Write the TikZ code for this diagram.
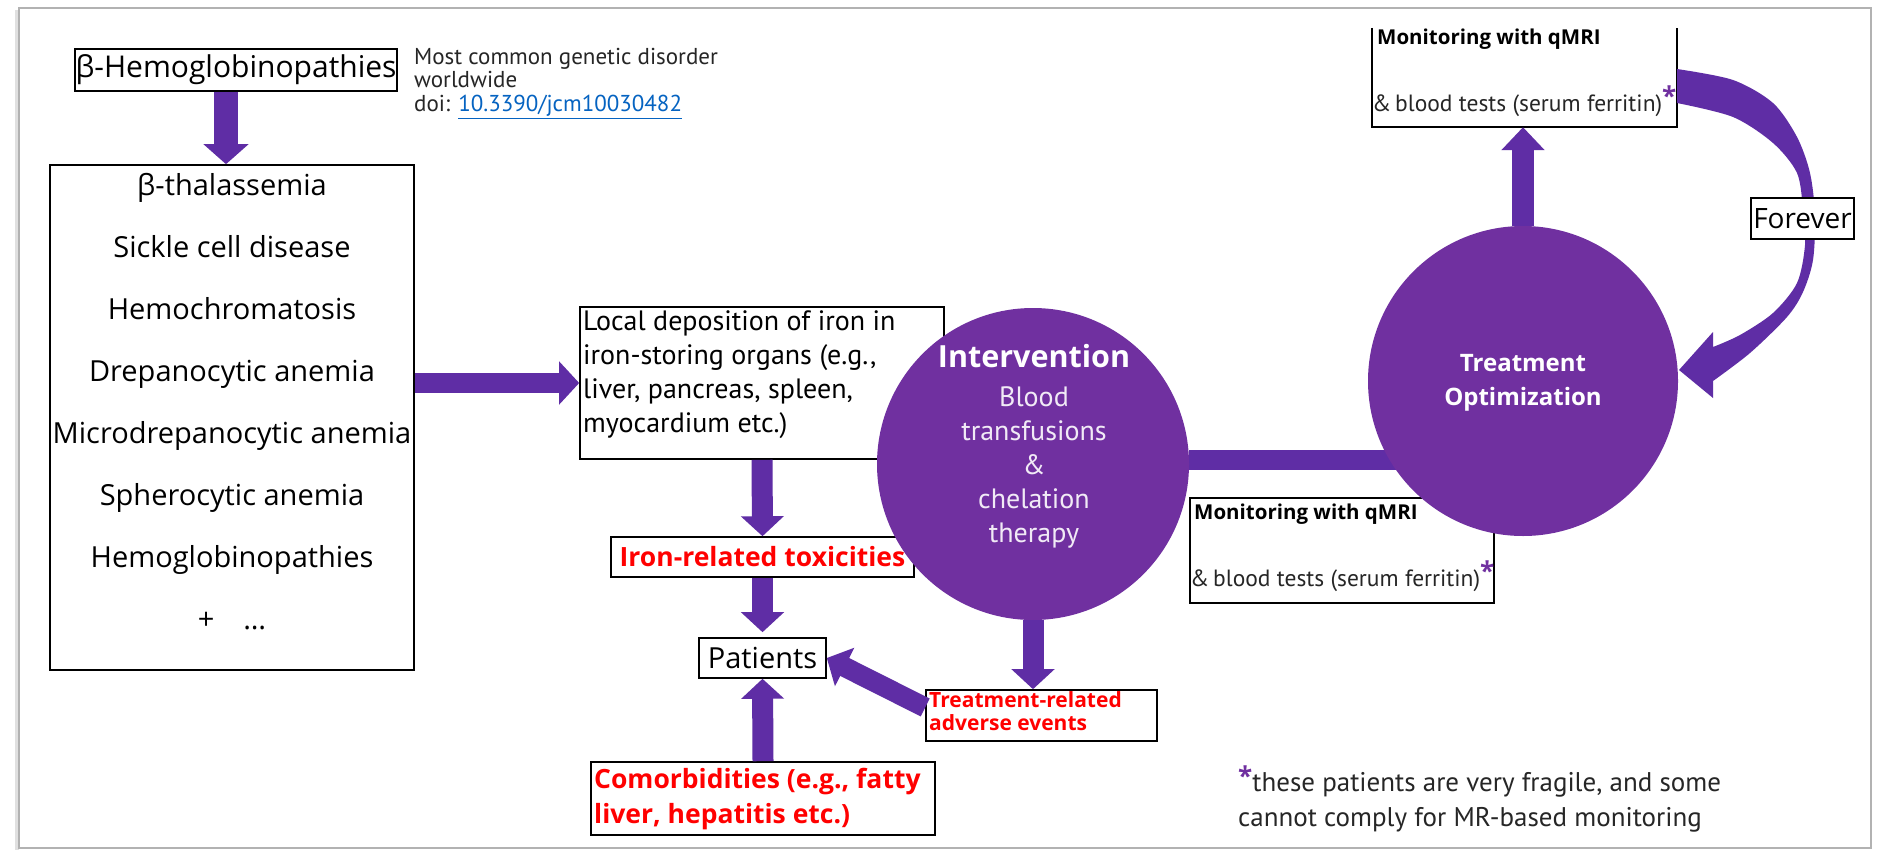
\documentclass[tikz,border=0pt]{standalone}
\usepackage{fontspec}
\setmainfont{PT Sans}
\newfontfamily\os{Open Sans}
\usetikzlibrary{arrows.meta}
\definecolor{circ}{HTML}{7030A0}
\definecolor{arr}{HTML}{5F2DA5}
\definecolor{linkblue}{HTML}{0563C1}
\definecolor{txt}{HTML}{262626}
\definecolor{redt}{HTML}{FF0000}
\pgfdeclarelayer{bg}
\pgfsetlayers{bg,main}
\newcommand\fs[2]{\fontsize{#1}{#2}\selectfont}
\newcommand\pstar{\raisebox{6pt}{\textcolor{circ}{\os\bfseries\fs{26}{26}*}}}
\begin{document}
\begin{tikzpicture}[x=1pt,y=-1pt,
  box/.style={draw=black, line width=1.6pt, fill=white, inner sep=0pt},
  barrow/.style={draw=arr, line width=21pt, -{Triangle[length=20pt,width=42pt]}},
  bar/.style={draw=arr, line width=20pt},
  disc/.style={circle, fill=circ, inner sep=0pt},
  plain/.style={inner sep=0pt, text=txt},
]
\useasboundingbox (0,0) rectangle (1884,851);
\begin{pgfonlayer}{bg}
\fill[white] (0,0) rectangle (1884,851);
\draw[black!12, line width=4pt] (17,10) -- (17,850);
\draw[black!30, line width=1.5pt] (19,8) rectangle (1871,848);
\end{pgfonlayer}

% left column
\node[box, minimum width=322pt, minimum height=42pt] (bh) at (236,70) {\os\fs{30}{36}β-Hemoglobinopathies};
\node[box, minimum width=364pt, minimum height=505pt] (list) at (232,417.5) {};
\node[plain, text=black, align=center, font={\os\fs{29}{62}}] (listtxt) at (232,402)
  {β-thalassemia\\Sickle cell disease\\Hemochromatosis\\Drepanocytic anemia\\Microdrepanocytic anemia\\Spherocytic anemia\\Hemoglobinopathies\\+\quad …};
\draw[barrow, line width=24pt, -{Triangle[length=20pt,width=44pt]}] ([xshift=-10pt]bh.south) -- ([xshift=-6pt]list.north);

\node[plain, anchor=north west, align=left, font={\fs{23}{23.5}}] (note) at (414,48)
  {Most common genetic disorder\\worldwide\\doi: \textcolor{linkblue}{\underline{10.3390/jcm10030482}}};

% middle
\node[box, minimum width=364pt, minimum height=152pt] (loc) at (762,383) {};
\node[plain, text=black, anchor=north west, align=left, font={\fs{28}{34}}] (loctxt) at (583,310)
  {Local deposition of iron in\\iron-storing organs (e.g.,\\liver, pancreas, spleen,\\myocardium etc.)};
\draw[barrow, line width=20pt] (list.east |- loc.west) -- (loc.west);

\node[box, minimum width=303pt, minimum height=40pt, text=redt, font={\os\bfseries\fs{26.5}{30}}] (itox) at (762.5,557) {Iron-related toxicities};
\node[box, minimum width=127pt, minimum height=40pt, font={\os\fs{29}{34}}] (pat) at (762.5,658) {Patients};
\node[box, minimum width=344pt, minimum height=73pt] (com) at (763,798.5) {};
\node[inner sep=0pt, anchor=north west, align=left, text=redt, font={\os\bfseries\fs{26.5}{35}}] (comtxt) at (594,768)
  {Comorbidities (e.g., fatty\\liver, hepatitis etc.)};

\draw[barrow] (loc.south) -- (itox.north);
\draw[barrow, shorten >=5pt] (itox.south) -- (pat.north);
\draw[barrow] (com.north) -- (pat.south);

% intervention
\node[disc, minimum size=312pt] (interv) at (1033,464) {};
\node[inner sep=0pt, text=white, font={\os\bfseries\fs{30.5}{34}}] (inttitle) at (1034,356) {Intervention};
\node[inner sep=0pt, anchor=north, align=center, text=white!90!circ, font={\fs{28}{34}}] (inttxt) at (1034,386)
  {Blood\\transfusions\\\&\\chelation\\therapy};

\node[box, minimum width=231pt, minimum height=51pt] (tr) at (1041.5,715.5) {};
\node[inner sep=0pt, anchor=north west, align=left, text=redt, font={\os\bfseries\fs{21}{23}}] (trtxt) at (929,691)
  {Treatment-related\\adverse events};
\draw[barrow] (interv.south) -- (interv.south |- tr.north);
\draw[barrow, line width=20pt] ([yshift=8pt]tr.west) -- (pat.east);

% lower monitoring box
\node[box, minimum width=304pt, minimum height=105pt] (lmon) at (1342,550.5) {};
\node[inner sep=0pt, anchor=north west, text=black, font={\os\bfseries\fs{20.5}{24}}] (lmon1) at (1194,504) {Monitoring with qMRI};
\node[inner sep=0pt, anchor=base west, text=txt, font={\fs{23.5}{24}}] (lmon2) at (1190,586) {\&\,blood tests (serum ferritin)\pstar};

% treatment optimization
\node[disc, minimum size=310pt] (topt) at (1523,381) {};
\node[inner sep=0pt, align=center, text=white, font={\os\bfseries\fs{24}{34}}] (topttxt) at (1523,383) {Treatment\\Optimization};
\begin{pgfonlayer}{bg}
\draw[bar] ([yshift=4pt]interv.east) -- ([yshift=4pt]interv.east -| topt.center);
\end{pgfonlayer}

% upper monitoring box (open top)
\node[inner sep=0pt, minimum width=305pt, minimum height=99pt] (ub) at (1524.5,77.5) {};
\draw[line width=1.6pt] (ub.north west) -- (ub.south west) -- (ub.south east) -- (ub.north east);
\node[inner sep=0pt, anchor=north west, text=black, font={\os\bfseries\fs{20.5}{24}}] (ub1) at (1377,29) {Monitoring with qMRI};
\node[inner sep=0pt, anchor=base west, text=txt, font={\fs{23.5}{24}}] (ub2) at (1372,111) {\&\,blood tests (serum ferritin)\pstar};
\draw[barrow, line width=22pt, -{Triangle[length=23pt,width=42pt]}] (topt.north) -- (topt.north |- ub.south);

% curved "forever" arrow
\fill[arr] plot[smooth] coordinates {(1677,69) (1733,80) (1773,103) (1797,137) (1810,173) (1815,215) (1813,260) (1803,292) (1787,317) (1750,353) (1713,381)}
  -- (1713,398) -- (1679,370) -- (1713,332)
  -- plot[smooth] coordinates {(1713,347) (1740,335) (1773,313) (1797,283) (1805,245) (1803,210) (1797,173) (1773,143) (1733,117) (1677,103)} -- cycle;
\node[box, minimum width=103pt, minimum height=41pt, font={\os\fs{28}{34}}] (forever) at (1802.5,218.5) {Forever};

% footnote
\node[plain, anchor=north west, align=left, font={\fs{27}{35}}] (foot) at (1238,766)
  {\pstar these patients are very fragile, and some\\cannot comply for MR-based monitoring};
\end{tikzpicture}
\end{document}
